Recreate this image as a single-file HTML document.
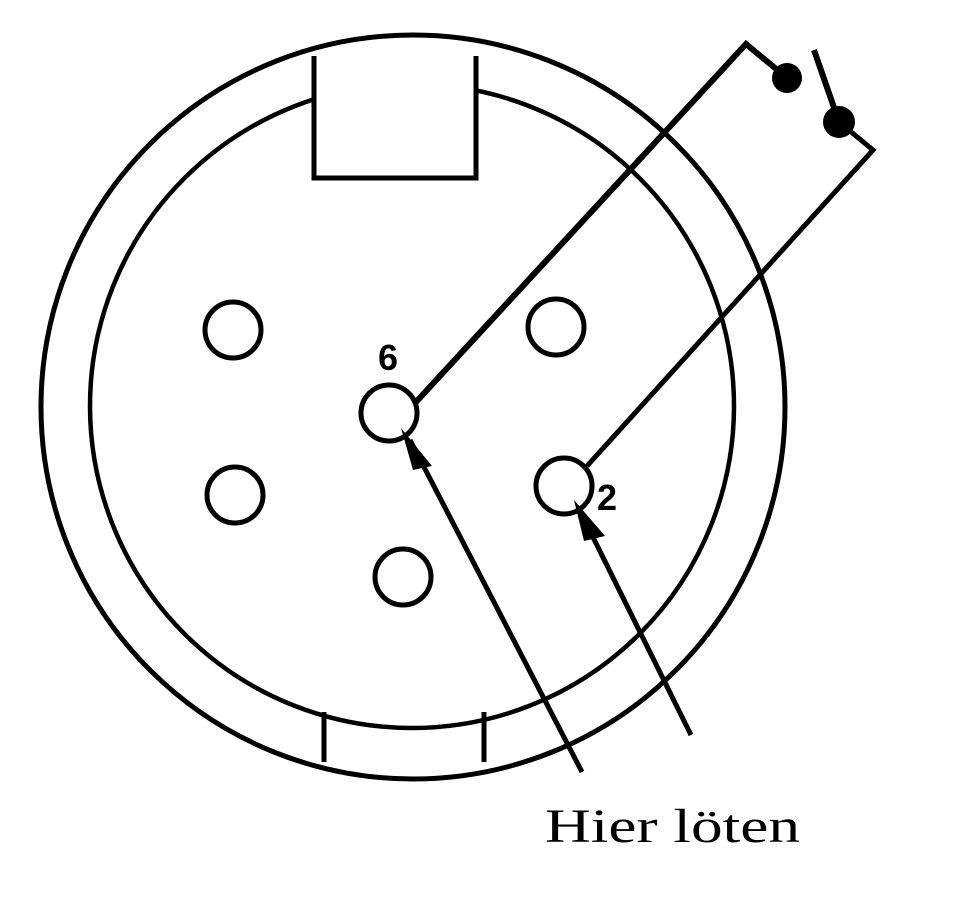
<!DOCTYPE html>
<html><head><meta charset="utf-8"><style>
html,body{margin:0;padding:0;background:#fff;}
svg{display:block;}
</style></head><body>
<svg width="965" height="902" viewBox="0 0 965 902">
<g fill="none" stroke="#000" stroke-width="5">
  <circle cx="413" cy="407" r="372"/>
  <circle cx="412" cy="406" r="322" stroke-width="4.5"/>
  <path d="M314 56 L314 178 L476 178 L476 56" fill="#fff"/>
  <path d="M324 712 L324 762"/>
  <path d="M484 712 L484 762"/>
  <circle cx="233" cy="330" r="28"/>
  <circle cx="556" cy="327" r="28"/>
  <circle cx="235" cy="495" r="28"/>
  <circle cx="403" cy="577" r="28"/>
  <circle cx="389" cy="413" r="28" fill="#fff"/>
  <circle cx="564" cy="486" r="28" fill="#fff"/>
  <path d="M416 402 L746 44 L787 78" stroke-width="6"/>
  <path d="M587 466 L873 150 L839 122"/>
  <path d="M814 50 L839 122" stroke-width="6"/>
  <path d="M582 772 L410 440"/>
  <path d="M691 735 L582 515"/>
</g>
<circle cx="787" cy="78" r="15" fill="#000"/>
<circle cx="839" cy="122" r="16" fill="#000"/>
<polygon points="401,428 432,466 413,470" fill="#000"/>
<polygon points="574,500 605,536 584,541" fill="#000"/>
<text x="378" y="370" font-family="Liberation Sans, sans-serif" font-size="36" font-weight="bold">6</text>
<text x="597" y="510" font-family="Liberation Sans, sans-serif" font-size="36" font-weight="bold">2</text>
<text x="545" y="842" font-family="Liberation Serif, serif" font-size="48" textLength="255" lengthAdjust="spacingAndGlyphs">Hier löten</text>
</svg>
</body></html>
